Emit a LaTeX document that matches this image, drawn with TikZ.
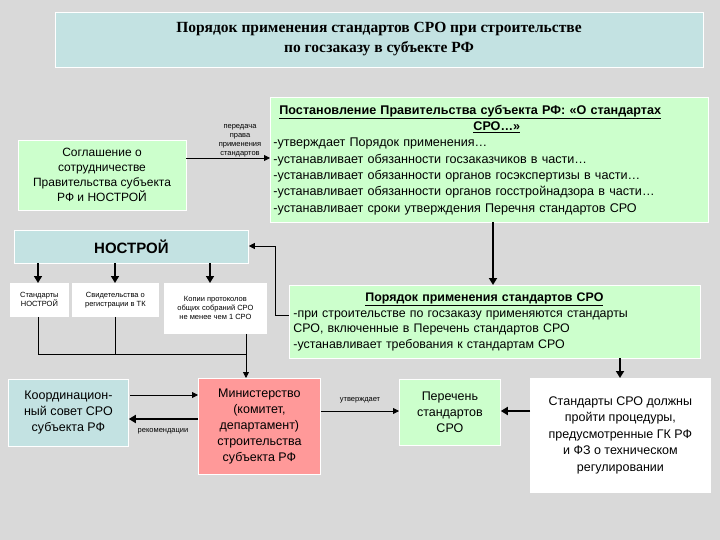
\documentclass[tikz,border=0pt]{standalone}
\usepackage{fontspec}
\setmainfont{Liberation Sans}
\newfontfamily\serif{Liberation Serif}
\usetikzlibrary{arrows.meta}
\definecolor{bg}{HTML}{D9D9D9}
\definecolor{tealbox}{HTML}{C3E2E2}
\definecolor{greenbox}{HTML}{CCFFCC}
\definecolor{pinkbox}{HTML}{FF9999}
\tikzset{
 box/.style={draw=white,line width=0.8pt,inner sep=2pt,align=center},
 ln/.style={line width=0.8pt},
 ar/.style={line width=0.8pt,-{Triangle[length=6pt,width=6pt]}},
 tar/.style={line width=2pt,-{Triangle[length=7pt,width=8pt]}},
 sm/.style={font=\fontsize{7.5}{9}\selectfont,align=center}
}
\begin{document}
\begin{tikzpicture}[x=1pt,y=-1pt]
\fill[bg] (0,0) rectangle (720,540);
\useasboundingbox (0,0) rectangle (720,540);
\node[box,fill=tealbox,minimum width=648,minimum height=55,font=\serif\bfseries\fontsize{15.5}{20}\selectfont] (title) at (379,39.5) {Порядок применения стандартов СРО при строительстве\\по госзаказу в субъекте РФ};
\node[box,fill=greenbox,minimum width=168,minimum height=70,font=\fontsize{12}{15}\selectfont] (agr) at (102,175) {Соглашение о\\сотрудничестве\\Правительства субъекта\\РФ и НОСТРОЙ};
\node[box,fill=greenbox,minimum width=438,minimum height=125,text width=432,align=left,font=\fontsize{12.6}{16.3}\selectfont,anchor=north west] (gov) at (270,97) {\hspace*{6pt}\underline{\textbf{Постановление Правительства субъекта РФ: «О стандартах}}\\\hspace*{200pt}\underline{\textbf{СРО…»}}\\-утверждает Порядок применения…\\-устанавливает обязанности госзаказчиков в части…\\-устанавливает обязанности органов госэкспертизы в части…\\-устанавливает обязанности органов госстройнадзора в части…\\-устанавливает сроки утверждения Перечня стандартов СРО};
\coordinate (lp) at (240,141);
\node[sm] (lbl1) at (lp) {передача\\права\\применения\\стандартов};
\draw[ar] (agr.east |- 0,158) -- (gov.west |- 0,158);
\node[box,fill=tealbox,minimum width=234,minimum height=33,font=\bfseries\fontsize{15}{17}\selectfont,anchor=north west] (nos) at (14,230) {НОСТРОЙ};
\node[box,fill=white,sm,minimum width=58,minimum height=33,anchor=north west] (s1) at (10,283) {Стандарты\\НОСТРОЙ};
\node[box,fill=white,sm,minimum width=86,minimum height=33,anchor=north west] (s2) at (72,283) {Свидетельства о\\регистрации в ТК};
\node[box,fill=white,sm,minimum width=102,minimum height=50,anchor=north west] (s3) at (164,283) {Копии протоколов\\общих собраний СРО\\не менее чем 1 СРО};
\draw[tar,line width=1.5pt] (38,263) -- (38,283);
\draw[tar,line width=1.5pt] (115,263) -- (115,283);
\draw[tar,line width=1.5pt] (210,263) -- (210,283);
\node[box,fill=greenbox,minimum width=411,minimum height=73,text width=403,anchor=north west,font=\fontsize{12.4}{15.8}\selectfont,align=left] (ord) at (289,285) {\hspace*{72pt}\underline{\textbf{Порядок применения стандартов СРО}}\\-при строительстве по госзаказу применяются стандарты\\СРО, включенные в Перечень стандартов СРО\\-устанавливает требования к стандартам СРО};
\draw[tar] (493,222) -- (493,285);
\coordinate (c1) at (275,315);
\coordinate (c2) at (275,246);
\draw[ar] (ord.west |- c1) -- (c1) -- (c2) -- (nos.east |- c2);
\node[box,fill=tealbox,minimum width=120,minimum height=67,anchor=north west,font=\fontsize{12.5}{16}\selectfont] (coord) at (8,379) {Координацион-\\ный совет СРО\\субъекта РФ};
\node[box,fill=pinkbox,minimum width=122,minimum height=96,anchor=north west,font=\fontsize{12.5}{16}\selectfont] (min) at (198,378) {Министерство\\(комитет,\\департамент)\\строительства\\субъекта РФ};
\node[box,fill=greenbox,minimum width=101,minimum height=66,anchor=north west,font=\fontsize{12.5}{16}\selectfont] (per) at (399,379) {Перечень\\стандартов\\СРО};
\node[box,fill=white,minimum width=180,minimum height=114,anchor=north west,font=\fontsize{12.5}{16.5}\selectfont] (std) at (530,378) {Стандарты СРО должны\\пройти процедуры,\\предусмотренные ГК РФ\\и ФЗ о техническом\\регулировании};
\draw[ln] (s1.south -| 38,0) -- (38,354);
\draw[ln] (s2.south -| 115,0) -- (115,354);
\draw[ln] (s3.south -| 246,0) -- (246,354);
\draw[ln] (38,354) -- (246,354);
\draw[ar] (246,354) -- (min.north -| 246,0);
\draw[ar] (130,395) -- (min.west |- 0,395);
\draw[tar] (min.west |- 0,419) -- (coord.east |- 0,419);
\node[sm] (rec) at (163,431) {рекомендации};
\draw[ar] (min.east |- 0,411) -- (per.west |- 0,411);
\node[sm] (utv) at (360,400) {утверждает};
\draw[tar] (std.west |- 0,411) -- (per.east |- 0,411);
\draw[tar] (620,358) -- (std.north -| 620,0);
\end{tikzpicture}
\end{document}
